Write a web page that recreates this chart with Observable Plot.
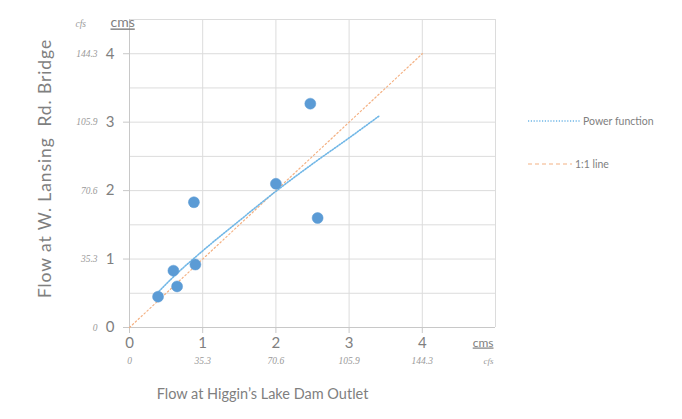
<!DOCTYPE html>
<html><head><meta charset="utf-8">
<script src="https://cdn.jsdelivr.net/npm/d3@7"></script>
<script src="https://cdn.jsdelivr.net/npm/@observablehq/plot@0.6"></script>
<style>body{margin:0;background:#fff}</style>
</head><body><div id="chart"></div>
<script>
// Observed flows (cms)
const higginsFlow = [0.39, 0.60, 0.65, 0.90, 0.88, 2.00, 2.47, 2.57];
const lansingFlow = [0.45, 0.83, 0.60, 0.92, 1.83, 2.10, 3.27, 1.60];
// Power function trend line
const powerX = [0.35, 0.6, 1.0, 1.5, 2.0, 2.5, 3.0, 3.41];
const powerY = [0.47, 0.74, 1.12, 1.56, 1.99, 2.39, 2.77, 3.09];
// 1:1 line
const oneToOne = [0, 4];
// Ticks
const cmsTicks = [0, 1, 2, 3, 4];
const cfsLabels = ["0", "35.3", "70.6", "105.9", "144.3"];
const yGrid = [0.5, 1, 1.5, 2, 2.5, 3, 3.5, 4, 4.5];
const xGrid = [1, 2, 3, 4, 5];

const points = higginsFlow.map((x, i) => ({x, y: lansingFlow[i]}));
const power = powerX.map((x, i) => ({x, y: powerY[i]}));
const cfsOf = d => cfsLabels[cmsTicks.indexOf(d)];
const cmsOf = d => String(d);

const grey = "#7f7f7f";
const serif = "Liberation Serif";

const chart = Plot.plot({
  width: 682, height: 419,
  marginLeft: 129, marginRight: 187, marginTop: 19, marginBottom: 92,
  x: {domain: [0, 5]},
  y: {domain: [0, 4.5]},
  style: {fontFamily: "Lato", color: grey, background: "white"},
  marks: [
    Plot.gridY(yGrid, {stroke: "#dcdcdc", strokeOpacity: 1}),
    Plot.gridX(xGrid, {stroke: "#dcdcdc", strokeOpacity: 1}),
    Plot.ruleY([0], {stroke: "#c8c8c8"}),
    Plot.ruleX([0], {stroke: "#c8c8c8"}),
    Plot.axisY(cmsTicks, {tickSize: 6, tickPadding: 9, fontSize: 15, tickFormat: cmsOf, label: null, stroke: "#c8c8c8", fill: grey}),
    Plot.axisY(cmsTicks, {tickSize: 0, tickPadding: 32, fontSize: 9.5, fontFamily: serif, fontStyle: "italic", tickFormat: cfsOf, label: null, fill: "#9a9a9a"}),
    Plot.axisX(cmsTicks, {tickSize: 6, tickPadding: 4, fontSize: 15, tickFormat: cmsOf, label: null, stroke: "#c8c8c8", fill: grey}),
    Plot.axisX(cmsTicks, {tickSize: 0, tickPadding: 30, fontSize: 9.5, fontFamily: serif, fontStyle: "italic", tickFormat: cfsOf, label: null, fill: "#9a9a9a"}),
    Plot.line(oneToOne.map(v => ({x: v, y: v})), {x: "x", y: "y", stroke: "#f4b183", strokeWidth: 1.2, strokeDasharray: "1.5,2.5"}),
    Plot.line(power, {x: "x", y: "y", curve: "monotone-x", stroke: "#6fb6e6", strokeWidth: 1.6, strokeDasharray: "1.2,1.6"}),
    Plot.dot(points, {x: "x", y: "y", r: 5.5, fill: "#5b9bd5", stroke: "#5b9bd5", strokeWidth: 0.5}),
    Plot.text(["Flow at Higgin\u2019s Lake Dam Outlet"], {frameAnchor: "bottom", dx: -50, dy: 71, fontSize: 14.5, fill: grey}),
    Plot.text(["Flow at W. Lansing\u00a0 Rd. Bridge"], {frameAnchor: "left", textAnchor: "middle", rotate: -90, dx: -84, dy: -5, fontSize: 17.5, fill: grey}),
    Plot.text(["cms"], {frameAnchor: "top-left", dx: -19, dy: -2, fontSize: 14, fill: grey}),
    Plot.text(["cfs"], {frameAnchor: "top-left", dx: -54, dy: 1, fontSize: 9.5, fontFamily: serif, fontStyle: "italic", fill: "#9a9a9a"}),
    Plot.text(["cms"], {frameAnchor: "bottom-right", dx: -2, dy: 19, fontSize: 12, fill: grey}),
    Plot.text(["cfs"], {frameAnchor: "bottom-right", dx: -2, dy: 36, fontSize: 9, fontFamily: serif, fontStyle: "italic", fill: "#9a9a9a"})
  ]
});

const svg = d3.select(chart);
svg.selectAll("text").filter(function() { return this.textContent === "cms"; })
  .style("text-decoration", "underline");
svg.selectAll("text").filter(function() { return this.textContent.startsWith("Flow at W."); })
  .style("letter-spacing", "0.9px");

// Legend
const legend = [
  {label: "Power function", color: "#6fb6e6", dash: "1.2,1.6", width: 1.6, x2: 580, y: 121},
  {label: "1:1 line", color: "#f4b183", dash: "4,3", width: 1.2, x2: 572, y: 164}
];
const lg = svg.append("g").attr("font-family", "Lato").attr("font-size", 10.5).attr("fill", grey).attr("text-anchor", "start");
legend.forEach(d => {
  lg.append("line").attr("x1", 528).attr("x2", d.x2).attr("y1", d.y).attr("y2", d.y)
    .attr("stroke", d.color).attr("stroke-width", d.width).attr("stroke-dasharray", d.dash);
  lg.append("text").attr("x", d.x2 + 3).attr("y", d.y).attr("dy", "0.35em").text(d.label);
});

document.getElementById("chart").appendChild(chart);
</script>
</body></html>
